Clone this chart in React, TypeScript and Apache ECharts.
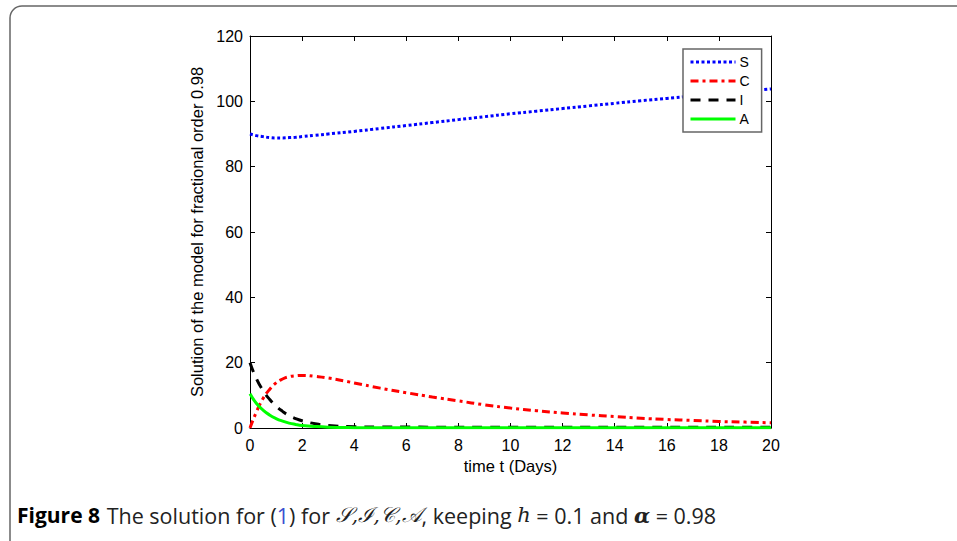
import React, { useEffect, useRef } from "react";
import * as echarts from "echarts";

const tValues = [0, 0.25, 0.5, 0.75, 1, 1.25, 1.5, 1.75, 2, 2.5, 3, 4, 5, 6, 7, 8, 9, 10, 11, 12, 13, 14, 15, 16, 17, 18, 19, 20];
const sValues = [90, 89.5, 89.2, 88.9, 88.8, 88.8, 88.9, 89.0, 89.2, 89.6, 90.0, 90.8, 91.7, 92.6, 93.5, 94.4, 95.3, 96.2, 97.0, 97.8, 98.6, 99.4, 100.2, 100.9, 101.6, 102.4, 103.1, 103.8];
const cValues = [0, 5, 9, 11.8, 13.8, 15, 15.7, 16, 16.1, 15.8, 15.3, 13.8, 12.2, 10.8, 9.5, 8.3, 7.1, 6.1, 5.3, 4.6, 4.0, 3.5, 3.0, 2.6, 2.3, 2.0, 1.8, 1.6];
const iValues = [20, 15, 11.5, 8.8, 6.7, 5.1, 3.8, 2.9, 2.2, 1.3, 0.8, 0.4, 0.3, 0.3, 0.25, 0.25, 0.2, 0.2, 0.2, 0.2, 0.2, 0.2, 0.2, 0.2, 0.2, 0.2, 0.2, 0.2];
const aValues = [10.5, 7.5, 5.5, 4.0, 2.9, 2.1, 1.5, 1.1, 0.8, 0.45, 0.25, 0.1, 0.05, 0.05, 0.05, 0.05, 0.05, 0.05, 0.05, 0.05, 0.05, 0.05, 0.05, 0.05, 0.05, 0.05, 0.05, 0.05];
const seriesNames = ["S", "C", "I", "A"];
const xTicks = { min: 0, max: 20, interval: 2 };
const yTicks = { min: 0, max: 120, interval: 20 };

const pair = (ys: number[]) => tValues.map((t, i) => [t, ys[i]]);

export default function App() {
  const ref = useRef<HTMLDivElement>(null);
  useEffect(() => {
    const chart = echarts.init(ref.current!, undefined, { renderer: "svg" });
    const font = "'Liberation Sans', Arial, sans-serif";
    const cap = "'Open Sans', sans-serif";
    const axisCommon = {
      axisLine: { show: true, onZero: false, lineStyle: { color: "#000", width: 1 } },
      axisTick: { show: true, inside: true, length: 5, lineStyle: { color: "#000" } },
      splitLine: { show: false },
    };
    chart.setOption({
      animation: false,
      backgroundColor: "#fff",
      grid: { left: 250, right: 186, top: 36, bottom: 113 },
      xAxis: [
        {
          type: "value", ...xTicks, position: "bottom", ...axisCommon,
          axisLabel: { color: "#000", fontSize: 16, fontFamily: font, margin: 9 },
          name: "time t (Days)", nameLocation: "middle", nameGap: 29,
          nameTextStyle: { color: "#000", fontSize: 16.5, fontFamily: font },
        },
        { type: "value", ...xTicks, position: "top", ...axisCommon, axisLabel: { show: false } },
      ],
      yAxis: [
        {
          type: "value", ...yTicks, position: "left", ...axisCommon,
          axisLabel: { color: "#000", fontSize: 16, fontFamily: font, margin: 7 },
          name: "Solution of the model for fractional order 0.98", nameLocation: "middle", nameGap: 44,
          nameTextStyle: { color: "#000", fontSize: 16.5, fontFamily: font },
        },
        { type: "value", ...yTicks, position: "right", ...axisCommon, axisLabel: { show: false } },
      ],
      legend: {
        orient: "vertical", left: 683, top: 49,
        data: seriesNames,
        backgroundColor: "#fff", borderColor: "#666", borderWidth: 1.5,
        padding: [6, 12, 6, 6], itemWidth: 45, itemHeight: 14, itemGap: 5,
        itemStyle: { opacity: 0 },
        lineStyle: { width: 3 },
        textStyle: { color: "#000", fontSize: 14, fontFamily: font, padding: [0, 0, 0, -1] },
      },
      series: [
        { name: "S", type: "line", data: pair(sValues), smooth: true, symbol: "none", color: "#0000ff",
          lineStyle: { color: "#0000ff", width: 3, type: [3, 2.5] } },
        { name: "C", type: "line", data: pair(cValues), smooth: true, symbol: "none", color: "#ff0000",
          lineStyle: { color: "#ff0000", width: 3, type: [8, 4, 3, 4] } },
        { name: "I", type: "line", data: pair(iValues), smooth: true, symbol: "none", color: "#000",
          lineStyle: { color: "#000", width: 3, type: [10, 8] } },
        { name: "A", type: "line", data: pair(aValues), smooth: true, symbol: "none", color: "#00ff00",
          lineStyle: { color: "#00ff00", width: 3, type: "solid" } },
      ],
      graphic: [
        { type: "rect", z: -10, silent: true, shape: { x: 10, y: 6, width: 1000, height: 600, r: 12 },
          style: { fill: "none", stroke: "#666", lineWidth: 1.5 } },
        { type: "text", left: 17, top: 504, style: {
          text: "{b|Figure 8}  {n|The solution for (}{l|1}{n|) for }{m|𝒮,ℐ,𝒞,𝒜}{n|, keeping }{i|h}{n| = 0.1 and }{a|α}{n| = 0.98}",
          rich: {
            b: { fontFamily: cap, fontWeight: "bold", fontSize: 21, fill: "#000" },
            n: { fontFamily: cap, fontSize: 21.5, fill: "#222" },
            l: { fontFamily: cap, fontSize: 21.5, fill: "#3a4fd0" },
            m: { fontFamily: "'DejaVu Serif', serif", fontStyle: "italic", fontSize: 21, fill: "#222" },
            i: { fontFamily: "'DejaVu Serif', serif", fontStyle: "italic", fontSize: 21, fill: "#222" },
            a: { fontFamily: "'DejaVu Serif', serif", fontStyle: "italic", fontWeight: "bold", fontSize: 21, fill: "#222" },
          },
        } },
      ],
    });
    return () => chart.dispose();
  }, []);
  return <div ref={ref} style={{ position: "fixed", left: 0, top: 0, width: 957, height: 541 }} />;
}
